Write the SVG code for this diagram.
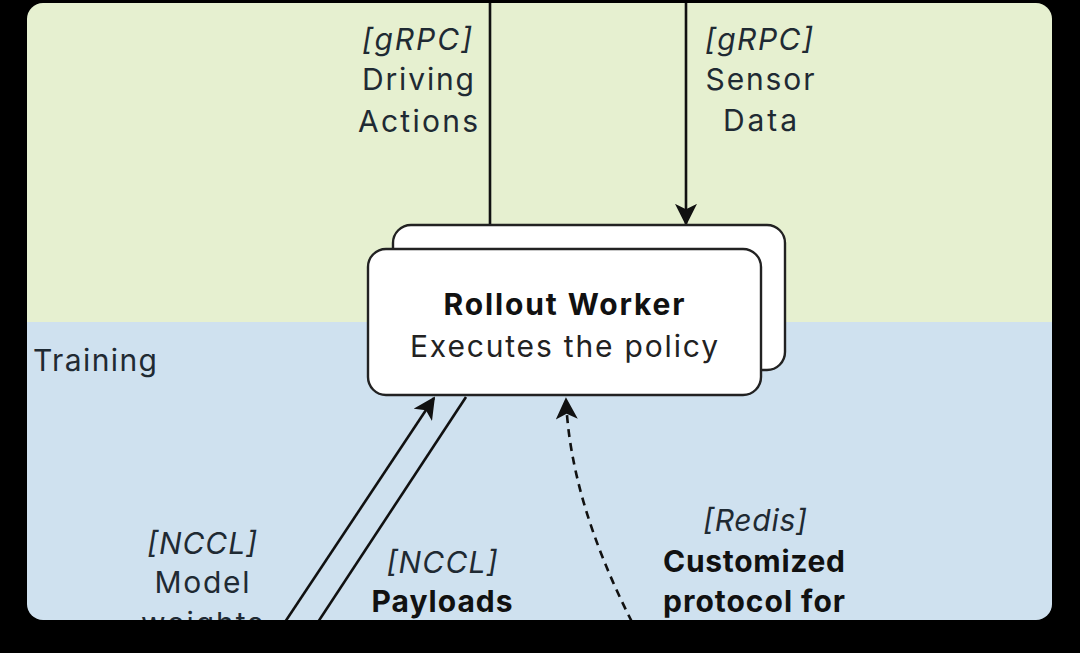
<svg xmlns="http://www.w3.org/2000/svg" width="1080" height="653" viewBox="0 0 1080 653">
<style>
.lbl{font-family:Inter,"Open Sans","Noto Sans",sans-serif;font-size:30px;fill:#1f2a33;text-anchor:middle}
.it{font-style:italic}
.b{font-weight:bold;fill:#111}
.ln{stroke:#111;stroke-width:2.6;fill:none}
.box{fill:#fff;stroke:#222;stroke-width:2.4}
</style>
<defs>
<marker id="ahb" viewBox="0 0 12 12" refX="11" refY="6" markerWidth="22" markerHeight="22" markerUnits="userSpaceOnUse" orient="auto"><path d="M0,0 L12,6 L0,12 L3,6 Z" fill="#111"/></marker>
<clipPath id="panel"><rect x="27" y="3" width="1025" height="617" rx="16"/></clipPath>
</defs>
<rect width="1080" height="653" fill="#000"/>
<g clip-path="url(#panel)">
<rect x="27" y="3" width="1025" height="320" fill="#e6f0d0"/>
<rect x="27" y="322" width="1025" height="300" fill="#cfe1ef"/>
<text x="33" y="371" class="lbl" style="text-anchor:start" textLength="124" lengthAdjust="spacing">Training</text>
<g id="connectors">
<line x1="490" y1="0" x2="490" y2="225" class="ln"/>
<line x1="686" y1="0" x2="686" y2="224" class="ln" marker-end="url(#ahb)"/>
<line x1="285" y1="622" x2="434" y2="398" class="ln" marker-end="url(#ahb)"/>
<line x1="318" y1="622" x2="466" y2="397" class="ln"/>
<path d="M632,622 Q570,500 566,399" class="ln" stroke-dasharray="8,6" marker-end="url(#ahb)"/>
</g>
<g id="rollout-worker">
<rect x="393" y="225" width="392" height="145" rx="18" class="box"/>
<rect x="368" y="249" width="393" height="146" rx="18" class="box"/>
<text x="564" y="315" class="lbl b" textLength="241" lengthAdjust="spacing">Rollout Worker</text>
<text x="564" y="357" class="lbl" style="fill:#222" textLength="308" lengthAdjust="spacing">Executes the policy</text>
</g>
<g id="label-driving">
<text x="417" y="50" class="lbl it" textLength="110" lengthAdjust="spacing">[gRPC]</text>
<text x="418" y="90" class="lbl" textLength="112" lengthAdjust="spacing">Driving</text>
<text x="418" y="132" class="lbl" textLength="120" lengthAdjust="spacing">Actions</text>
</g>
<g id="label-sensor">
<text x="759" y="50" class="lbl it" textLength="108" lengthAdjust="spacing">[gRPC]</text>
<text x="760" y="90" class="lbl" textLength="109" lengthAdjust="spacing">Sensor</text>
<text x="760" y="131" class="lbl" textLength="74" lengthAdjust="spacing">Data</text>
</g>
<g id="label-model">
<text x="202" y="554" class="lbl it" textLength="110" lengthAdjust="spacing">[NCCL]</text>
<text x="202" y="593" class="lbl" textLength="95" lengthAdjust="spacing">Model</text>
<text x="202" y="634" class="lbl" textLength="122" lengthAdjust="spacing">weights</text>
</g>
<g id="label-payloads">
<text x="442" y="573" class="lbl it" textLength="111" lengthAdjust="spacing">[NCCL]</text>
<text x="442" y="612" class="lbl b" textLength="141" lengthAdjust="spacing">Payloads</text>
</g>
<g id="label-redis">
<text x="755" y="531" class="lbl it" textLength="104" lengthAdjust="spacing">[Redis]</text>
<text x="754" y="572" class="lbl b" textLength="182" lengthAdjust="spacing">Customized</text>
<text x="754" y="612" class="lbl b" textLength="182" lengthAdjust="spacing">protocol for</text>
</g>
</g>
</svg>
